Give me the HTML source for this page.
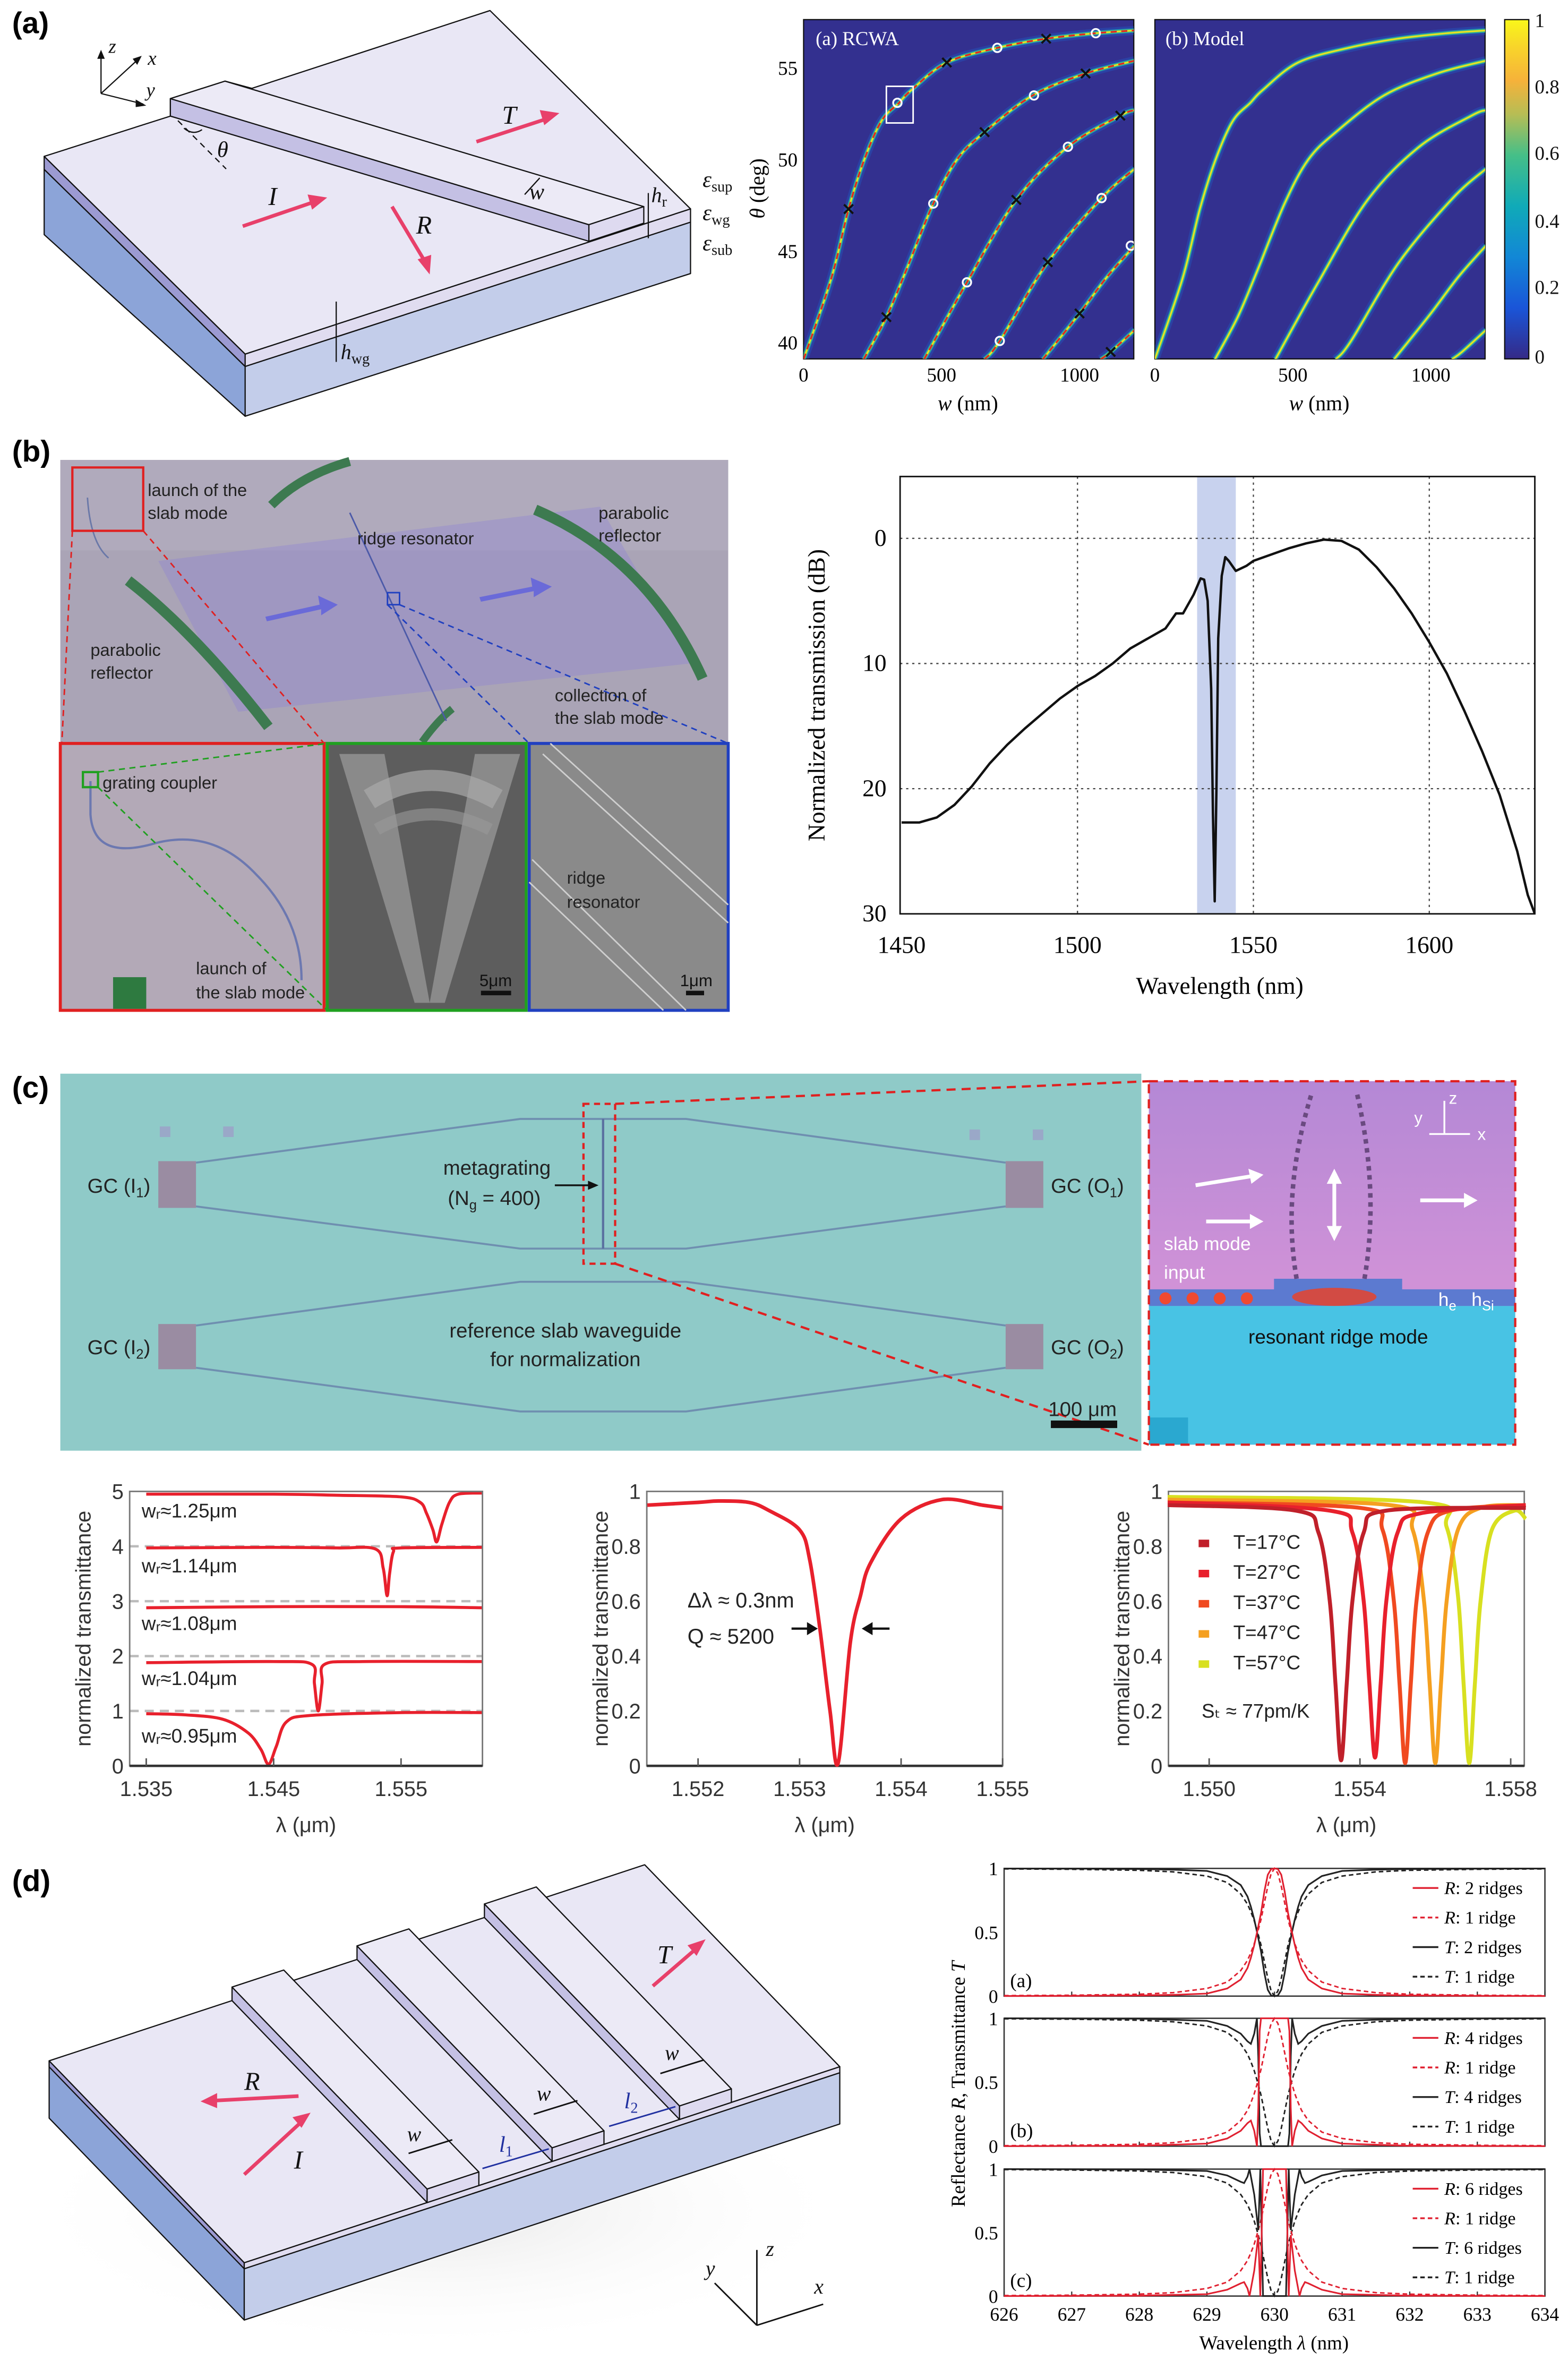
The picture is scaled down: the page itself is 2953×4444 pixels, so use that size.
<!DOCTYPE html>
<html><head><meta charset="utf-8"><title>Ridge resonator figure</title>
<style>
html,body{margin:0;padding:0;background:#fff;}
svg{display:block;}
.sf{font-family:"Liberation Serif",serif;}
.ss{font-family:"Liberation Sans",sans-serif;}
</style></head>
<body>
<svg id="fig" xmlns="http://www.w3.org/2000/svg" viewBox="0 0 1040 1565" width="2953" height="4444" preserveAspectRatio="none">
<defs>
 <linearGradient id="parula" x1="0" y1="1" x2="0" y2="0">
  <stop offset="0" stop-color="#352a87"/><stop offset="0.15" stop-color="#1a55d8"/><stop offset="0.3" stop-color="#1287d6"/>
  <stop offset="0.45" stop-color="#10aab8"/><stop offset="0.6" stop-color="#45bf88"/><stop offset="0.72" stop-color="#b6bd55"/>
  <stop offset="0.82" stop-color="#f6b23a"/><stop offset="0.92" stop-color="#f8d52a"/><stop offset="1" stop-color="#f9f71a"/>
 </linearGradient>
 <linearGradient id="insetg" x1="0" y1="0" x2="0" y2="1">
  <stop offset="0" stop-color="#b488d6"/><stop offset="1" stop-color="#e69ad8"/>
 </linearGradient>
 <radialGradient id="shadowg" cx="0.5" cy="0.5" r="0.5">
  <stop offset="0" stop-color="#ddd"/><stop offset="1" stop-color="#fff" stop-opacity="0"/>
 </radialGradient>
 <clipPath id="clipA"><rect x="533" y="13" width="219" height="225"/></clipPath>
 <clipPath id="clipB"><rect x="766" y="13" width="219" height="225"/></clipPath>
 <clipPath id="clipBC"><rect x="597" y="316" width="421" height="290"/></clipPath>
</defs>

<text class="ss" x="8" y="22" font-size="20" font-weight="bold">(a)</text>
<text class="ss" x="8" y="306" font-size="20" font-weight="bold">(b)</text>
<text class="ss" x="8" y="728" font-size="20" font-weight="bold">(c)</text>
<text class="ss" x="8" y="1254" font-size="20" font-weight="bold">(d)</text>

<g stroke="#111" stroke-width="0.8" stroke-linejoin="round">
 <polygon points="29.3,112.3 162.6,243 162.6,276 29.3,155.6" fill="#8ca4d8"/>
 <polygon points="29.3,103.7 162.6,234.8 162.6,243 29.3,112.3" fill="#9c9ad2"/>
 <polygon points="162.6,243 458,147.3 458,181.4 162.6,276" fill="#c3cdea"/>
 <polygon points="162.6,234.8 458,138.5 458,147.3 162.6,243" fill="#e0dcf0"/>
 <polygon points="29.3,103.7 113,77 113,65.4 149.2,53.8 167,58.6 325,7 458,138.5 162.6,234.8" fill="#e9e7f5"/>
 <polygon points="113,65.4 390.6,149 390.6,160 113,77" fill="#c4c0e4"/>
 <polygon points="113,65.4 149.2,53.8 427,137 390.6,149" fill="#eceaf6"/>
 <polygon points="390.6,149 427,137 427,148 390.6,160" fill="#dedaf0"/>
 <line x1="118" y1="80" x2="150" y2="112" stroke-dasharray="4 3"/>
 <path d="M122 85 Q128 90 134 86" fill="none"/>
 <line x1="67" y1="62" x2="67" y2="36"/>
 <line x1="67" y1="62" x2="92" y2="39"/>
 <line x1="67" y1="62" x2="95" y2="69"/>
 <line x1="358" y1="118" x2="348" y2="129"/>
 <line x1="430" y1="128" x2="430" y2="158"/>
 <line x1="223" y1="200" x2="223" y2="240"/>
</g>
<g fill="#111">
 <polygon points="67,33 64.5,39 69.5,39"/><polygon points="94,37 88,39 91,43"/><polygon points="97,70 90,66 90,71"/>
</g>
<g stroke="#e8406a" stroke-width="2.4" fill="#e8406a">
 <line x1="161" y1="150" x2="208" y2="134"/><polygon points="217,131 204,129 207,139" stroke="none"/>
 <line x1="260" y1="137" x2="281" y2="172"/><polygon points="285,182 277,172 286,169" stroke="none"/>
 <line x1="316" y1="94" x2="362" y2="79"/><polygon points="371,75 358,73 361,83" stroke="none"/>
</g>
<g class="sf" font-style="italic" font-size="17" fill="#111">
 <text x="178" y="136">I</text><text x="276" y="155">R</text><text x="333" y="82">T</text>
 <text x="351" y="132" font-size="15">w</text><text x="144" y="104" font-size="15">θ</text>
 <text x="72" y="35" font-size="13">z</text><text x="98" y="43" font-size="13">x</text><text x="97" y="64" font-size="13">y</text>
 <text x="432" y="134" font-size="14">h<tspan font-size="10" font-style="normal" dy="3">r</tspan></text>
 <text x="226" y="238" font-size="14">h<tspan font-size="10" font-style="normal" dy="3">wg</tspan></text>
 <text x="466" y="124" font-size="15">ε<tspan font-size="10" font-style="normal" dy="3">sup</tspan></text>
 <text x="466" y="146" font-size="15">ε<tspan font-size="10" font-style="normal" dy="3">wg</tspan></text>
 <text x="466" y="166" font-size="15">ε<tspan font-size="10" font-style="normal" dy="3">sub</tspan></text>
</g>

<rect x="533" y="13" width="219" height="225" fill="#33308f" stroke="#111" stroke-width="0.8"/>
<rect x="766" y="13" width="219" height="225" fill="#33308f" stroke="#111" stroke-width="0.8"/>
<g id="heatA" clip-path="url(#clipA)"></g>
<g id="heatB" clip-path="url(#clipB)"></g>
<rect x="998" y="13" width="16" height="225" fill="url(#parula)" stroke="#111" stroke-width="0.8"/>
<g class="sf" font-size="13" fill="#111">
 <text x="1018" y="18">1</text><text x="1018" y="62">0.8</text><text x="1018" y="106">0.6</text>
 <text x="1018" y="151">0.4</text><text x="1018" y="195">0.2</text><text x="1018" y="241">0</text>
</g>
<g class="sf" font-size="13" fill="#fff">
 <text x="541" y="30">(a) RCWA</text><text x="773" y="30">(b) Model</text>
</g>
<g id="axA" class="sf"></g>
<text class="sf" font-size="14" transform="translate(507,125) rotate(-90)" text-anchor="middle"><tspan font-style="italic">θ</tspan> (deg)</text>
<text class="sf" font-size="14" x="642" y="272" text-anchor="middle"><tspan font-style="italic">w</tspan> (nm)</text>
<text class="sf" font-size="14" x="875" y="272" text-anchor="middle"><tspan font-style="italic">w</tspan> (nm)</text>

<g>
 <rect x="40" y="305" width="443" height="188" fill="#aaa4b6"/>
 <rect x="40" y="305" width="443" height="60" fill="#b4afc0" opacity="0.6"/>
 <polygon points="105,372 398,336 458,440 158,472" fill="#8b80d8" opacity="0.35"/>
 <path d="M85 385 Q130 420 178 482" stroke="#3d7a50" stroke-width="7" fill="none"/>
 <path d="M355 338 Q430 370 466 450" stroke="#3d7a50" stroke-width="7" fill="none"/>
 <path d="M180 335 Q200 315 232 306" stroke="#3d7a50" stroke-width="6" fill="none"/>
 <path d="M280 492 Q290 478 300 470" stroke="#3d7a50" stroke-width="5" fill="none"/>
 <path d="M58 330 Q60 360 72 370" stroke="#6a78a8" stroke-width="1" fill="none"/>
 <line x1="232" y1="340" x2="296" y2="478" stroke="#4c5aa8" stroke-width="1"/>
 <rect x="257" y="393" width="8" height="8" fill="none" stroke="#2040c0" stroke-width="1"/>
 <polygon points="176,409 212,401 211,395 224,401 213,408 213,404 177,412" fill="#6a6ad8"/>
 <polygon points="318,396 353,389 352,383 366,389 354,396 354,392 319,399" fill="#6a6ad8"/>
 <rect x="48" y="310" width="47" height="42" fill="none" stroke="#e02020" stroke-width="1.5"/>
 <line x1="48" y1="352" x2="41" y2="493" stroke="#e02020" stroke-dasharray="4 3"/>
 <line x1="95" y1="352" x2="215" y2="493" stroke="#e02020" stroke-dasharray="4 3"/>
 <line x1="257" y1="401" x2="351" y2="493" stroke="#2040c0" stroke-dasharray="4 3"/>
 <line x1="265" y1="401" x2="483" y2="493" stroke="#2040c0" stroke-dasharray="4 3"/>
</g>
<g class="ss" font-size="11.5" fill="#222">
 <text x="98" y="329">launch of the</text><text x="98" y="344">slab mode</text>
 <text x="237" y="361">ridge resonator</text>
 <text x="397" y="344">parabolic</text><text x="397" y="359">reflector</text>
 <text x="60" y="435">parabolic</text><text x="60" y="450">reflector</text>
 <text x="368" y="465">collection of</text><text x="368" y="480">the slab mode</text>
</g>
<g>
 <rect x="40" y="493" width="175" height="177" fill="#b3a9b7" stroke="#e02020" stroke-width="2"/>
 <path d="M60 518 L60 540 Q62 570 100 560 Q140 548 170 580 Q200 610 200 650" fill="none" stroke="#6c78b0" stroke-width="1.5"/>
 <rect x="55" y="512" width="10" height="10" fill="none" stroke="#20a020" stroke-width="1.5"/>
 <rect x="75" y="648" width="22" height="21" fill="#2e7a40"/>
 <line x1="65" y1="512" x2="217" y2="493" stroke="#20a020" stroke-dasharray="4 3"/>
 <line x1="65" y1="522" x2="217" y2="670" stroke="#20a020" stroke-dasharray="4 3"/>
 <text class="ss" font-size="11.5" fill="#222" x="68" y="523">grating coupler</text>
 <text class="ss" font-size="11.5" fill="#222" x="130" y="646">launch of</text>
 <text class="ss" font-size="11.5" fill="#222" x="130" y="662">the slab mode</text>
</g>
<g>
 <rect x="217" y="493" width="132" height="177" fill="#5d5d5d" stroke="#20a020" stroke-width="2"/>
 <polygon points="225,500 255,500 285,665 275,665" fill="#8a8a8a"/>
 <polygon points="345,500 315,500 285,665 295,665" fill="#8a8a8a"/>
 <path d="M245 530 Q285 505 330 530" stroke="#aaa" stroke-width="14" fill="none" opacity="0.7"/>
 <path d="M250 550 Q285 530 325 550" stroke="#9a9a9a" stroke-width="8" fill="none" opacity="0.6"/>
 <rect x="319" y="657" width="20" height="3" fill="#111"/>
 <text class="ss" font-size="11" fill="#111" x="318" y="654">5μm</text>
</g>
<g>
 <rect x="351" y="493" width="132" height="177" fill="#8a8a8a" stroke="#2040c0" stroke-width="2"/>
 <line x1="365" y1="493" x2="483" y2="600" stroke="#cfcfcf" stroke-width="1"/>
 <line x1="360" y1="500" x2="483" y2="612" stroke="#cfcfcf" stroke-width="1"/>
 <line x1="353" y1="570" x2="455" y2="670" stroke="#cfcfcf" stroke-width="1"/>
 <line x1="351" y1="585" x2="440" y2="670" stroke="#cfcfcf" stroke-width="1"/>
 <text class="ss" font-size="11.5" fill="#222" x="376" y="586">ridge</text>
 <text class="ss" font-size="11.5" fill="#222" x="376" y="602">resonator</text>
 <rect x="455" y="657" width="12" height="3" fill="#111"/>
 <text class="ss" font-size="11" fill="#111" x="451" y="654">1μm</text>
</g>

<g id="chartB"></g>
<text class="sf" font-size="16" transform="translate(547,461) rotate(-90)" text-anchor="middle">Normalized transmission (dB)</text>
<text class="sf" font-size="16" x="809" y="659" text-anchor="middle">Wavelength (nm)</text>

<g>
 <rect x="40" y="712" width="717" height="250" fill="#8fcac8"/>
 <g fill="none" stroke="#6f8fb0" stroke-width="1.3">
  <polyline points="130,771 345,742 455,742 667,771"/><polyline points="130,800 345,828 455,828 667,800"/>
  <polyline points="130,879 345,850 455,850 667,879"/><polyline points="130,907 345,936 455,936 667,907"/>
 </g>
 <line x1="400" y1="742" x2="400" y2="828" stroke="#5a70a0" stroke-width="1.5"/>
 <rect x="105" y="770" width="25" height="31" fill="#9a8ca2"/><rect x="667" y="770" width="25" height="31" fill="#9a8ca2"/>
 <rect x="105" y="878" width="25" height="30" fill="#9a8ca2"/><rect x="667" y="878" width="25" height="30" fill="#9a8ca2"/>
 <rect x="106" y="747" width="7" height="7" fill="#9aa8c8"/><rect x="148" y="747" width="7" height="7" fill="#9aa8c8"/>
 <rect x="643" y="749" width="7" height="7" fill="#9aa8c8"/><rect x="685" y="749" width="7" height="7" fill="#9aa8c8"/>
 <rect x="387" y="732" width="21" height="106" fill="none" stroke="#e02020" stroke-width="1.5" stroke-dasharray="4 3"/>
 <line x1="408" y1="732" x2="762" y2="717" stroke="#e02020" stroke-width="1.5" stroke-dasharray="6 4"/>
 <line x1="408" y1="838" x2="762" y2="958" stroke="#e02020" stroke-width="1.5" stroke-dasharray="6 4"/>
 <line x1="368" y1="786" x2="392" y2="786" stroke="#111" stroke-width="1.2"/><polygon points="397,786 390,783 390,789" fill="#111"/>
 <rect x="697" y="942" width="44" height="5" fill="#111"/>
</g>
<g class="ss" font-size="13.5" fill="#222">
 <text x="58" y="791">GC (I<tspan font-size="9" dy="3">1</tspan><tspan dy="-3">)</tspan></text>
 <text x="697" y="791">GC (O<tspan font-size="9" dy="3">1</tspan><tspan dy="-3">)</tspan></text>
 <text x="58" y="898">GC (I<tspan font-size="9" dy="3">2</tspan><tspan dy="-3">)</tspan></text>
 <text x="697" y="898">GC (O<tspan font-size="9" dy="3">2</tspan><tspan dy="-3">)</tspan></text>
 <text x="294" y="779">metagrating</text>
 <text x="297" y="799">(N<tspan font-size="9" dy="3">g</tspan><tspan dy="-3"> = 400)</tspan></text>
 <text x="375" y="887" text-anchor="middle">reference slab waveguide</text>
 <text x="375" y="906" text-anchor="middle">for normalization</text>
 <text x="718" y="939" text-anchor="middle">100 μm</text>
</g>
<g>
 <rect x="762" y="717" width="243" height="241" fill="url(#insetg)"/>
 <rect x="762" y="866" width="243" height="92" fill="#48c3e4"/>
 <rect x="762" y="855" width="243" height="11" fill="#5c7ad0"/>
 <rect x="845" y="848" width="85" height="8" fill="#5c7ad0"/>
 <ellipse cx="885" cy="860" rx="28" ry="6" fill="#f04020" opacity="0.8"/>
 <g fill="#f04a30"><circle cx="773" cy="861" r="4"/><circle cx="791" cy="861" r="4"/><circle cx="809" cy="861" r="4"/><circle cx="827" cy="861" r="4"/></g>
 <path d="M860 848 Q850 790 870 725" stroke="#6a4a80" stroke-width="3" fill="none" stroke-dasharray="3 3"/>
 <path d="M905 848 Q915 790 900 725" stroke="#6a4a80" stroke-width="3" fill="none" stroke-dasharray="3 3"/>
 <g stroke="#fff" stroke-width="2.5" fill="#fff">
  <line x1="793" y1="786" x2="830" y2="780"/><polygon points="838,779 828,775 830,785" stroke="none"/>
  <line x1="800" y1="810" x2="830" y2="810"/><polygon points="838,810 829,805 829,815" stroke="none"/>
  <line x1="885" y1="783" x2="885" y2="815"/><polygon points="885,775 880,785 890,785" stroke="none"/><polygon points="885,823 880,813 890,813" stroke="none"/>
  <line x1="942" y1="796" x2="972" y2="796"/><polygon points="980,796 971,791 971,801" stroke="none"/>
  <line x1="948" y1="752" x2="975" y2="752" stroke-width="1.2"/><line x1="958" y1="752" x2="958" y2="730" stroke-width="1.2"/>
 </g>
 <rect x="762" y="940" width="26" height="18" fill="#2aa8d0"/>
 <rect x="762" y="717" width="243" height="241" fill="none" stroke="#e02020" stroke-width="1.5" stroke-dasharray="6 4"/>
 <g class="ss" fill="#fff" font-size="12.5">
  <text x="772" y="829">slab mode</text><text x="772" y="848">input</text>
  <text x="954" y="866">h<tspan font-size="9" dy="3">e</tspan></text><text x="976" y="866">h<tspan font-size="9" dy="3">Si</tspan></text>
  <text x="938" y="745" font-size="11">y</text><text x="961" y="732" font-size="11">z</text><text x="980" y="756" font-size="11">x</text>
 </g>
 <text class="ss" fill="#111" font-size="13" x="828" y="891">resonant ridge mode</text>
</g>

<g id="chartC1"></g>
<g id="chartC2"></g>
<g id="chartC3"></g>

<g id="diagD"></g>
<g id="chartD"></g>
<text class="sf" font-size="13" transform="translate(640,1382) rotate(-90)" text-anchor="middle">Reflectance <tspan font-style="italic">R</tspan>, Transmittance <tspan font-style="italic">T</tspan></text>
<text class="sf" font-size="13" x="845" y="1558" text-anchor="middle">Wavelength <tspan font-style="italic">λ</tspan> (nm)</text>

<script>
const curveW1 = [0, 100, 163, 220, 282, 346, 391, 519, 702, 879, 1059, 1200];
const curveT1 = [39.1, 43.5, 47.3, 50.0, 52.1, 53.1, 53.8, 55.3, 56.1, 56.6, 56.9, 57.05];
const curveW2 = [218, 300, 373, 470, 556, 656, 830, 1022, 1200];
const curveT2 = [39.1, 41.4, 44.0, 47.6, 50.0, 51.5, 53.5, 54.7, 55.4];
const curveW3 = [437, 592, 771, 958, 1148, 1200];
const curveT3 = [39.1, 43.3, 47.8, 50.7, 52.4, 52.7];
const curveW4 = [656, 711, 885, 1080, 1200];
const curveT4 = [39.1, 40.1, 44.4, 47.9, 49.5];
const curveW5 = [867, 1000, 1100, 1200];
const curveT5 = [39.1, 41.6, 43.6, 45.3];
const curveW6 = [1077, 1113, 1200];
const curveT6 = [39.1, 39.5, 40.7];
const crossW = [163, 300, 519, 656, 771, 879, 885, 1000, 1022, 1148, 1113];
const crossT = [47.3, 41.4, 55.3, 51.5, 47.8, 56.6, 44.4, 41.6, 54.7, 52.4, 39.5];
const circW = [340, 470, 592, 702, 711, 835, 958, 1059, 1080, 1186];
const circT = [53.1, 47.6, 43.3, 56.1, 40.1, 53.5, 50.7, 56.9, 47.9, 45.3];
const heatXTicks = [0, 500, 1000];
const heatYTicks = [40, 45, 50, 55];

const specLam = [1450,1455,1460,1465,1470,1475,1480,1485,1490,1495,1500,1505,1510,1515,1520,1525,1528,1530,1533,1535,1536,1537,1538,1538.5,1539,1539.5,1540,1541,1542,1543,1545,1548,1550,1555,1560,1565,1570,1575,1580,1585,1590,1595,1600,1605,1610,1615,1620,1625,1628,1630];
const specDb = [22.7,22.7,22.3,21.3,19.8,18.0,16.5,15.2,14.0,12.8,11.8,11.0,10.0,8.8,8.0,7.2,6.0,6.0,4.5,3.2,3.3,5,12,22,29,20,8,3,1.5,1.8,2.6,2.2,1.8,1.3,0.8,0.4,0.1,0.2,0.9,2.3,4.0,6.0,8.3,10.8,13.8,17.0,20.5,25.0,28.5,30];
const specXTicks = [1450, 1500, 1550, 1600];
const specYTicks = [0, 10, 20, 30];
const bandRange = [1534, 1545];

const c1Lam1 = [1.535,1.545,1.55,1.555,1.5565,1.557,1.5575,1.5578,1.5582,1.5588,1.5595,1.5614];
const c1Val1 = [4.95,4.95,4.93,4.9,4.8,4.6,4.3,4.08,4.4,4.8,4.95,4.97];
const c1Lam2 = [1.535,1.545,1.55,1.553,1.5536,1.5539,1.5541,1.5544,1.555,1.5614];
const c1Val2 = [3.97,3.98,3.97,3.95,3.6,3.1,3.5,3.9,3.97,3.98];
const c1Lam3 = [1.535,1.545,1.555,1.5614];
const c1Val3 = [2.88,2.9,2.9,2.88];
const c1Lam4 = [1.535,1.545,1.548,1.5482,1.5485,1.5488,1.549,1.552,1.5614];
const c1Val4 = [1.88,1.9,1.85,1.5,1.0,1.5,1.85,1.9,1.9];
const c1Lam5 = [1.535,1.538,1.541,1.543,1.544,1.5446,1.5452,1.546,1.548,1.555,1.5614];
const c1Val5 = [0.95,0.93,0.85,0.6,0.3,0.03,0.35,0.8,0.92,0.97,0.97];
const c1Labels = ['w\u1D63\u22481.25\u03BCm','w\u1D63\u22481.14\u03BCm','w\u1D63\u22481.08\u03BCm','w\u1D63\u22481.04\u03BCm','w\u1D63\u22480.95\u03BCm'];
const c1LabelVals = [4.55, 3.55, 2.5, 1.5, 0.45];
const c1Guides = [4, 3, 2, 1];
const c1XTicks = [1.535, 1.545, 1.555];
const c1YTicks = [0, 1, 2, 3, 4, 5];

const c2Lam = [1.5515,1.552,1.5522,1.5525,1.5527,1.553,1.5531,1.5532,1.5533,1.55338,1.5535,1.5536,1.5537,1.554,1.5544,1.5548,1.555];
const c2Val = [0.95,0.96,0.965,0.96,0.93,0.86,0.75,0.5,0.2,0.01,0.45,0.62,0.74,0.9,0.97,0.95,0.94];
const c2XTicks = [1.552, 1.553, 1.554, 1.555];
const c2YTicks = [0, 0.2, 0.4, 0.6, 0.8, 1];

const c3Lam17 = [1.5489,1.5523,1.5529,1.5532,1.55335,1.5535,1.55365,1.5538,1.5541,1.5547,1.5584];
const c3Lam27 = [1.5489,1.5532,1.5538,1.5541,1.55425,1.5544,1.55455,1.5547,1.555,1.5556,1.5584];
const c3Lam37 = [1.5489,1.554,1.5546,1.5549,1.55505,1.5552,1.55535,1.5555,1.5558,1.5564,1.5584];
const c3Lam47 = [1.5489,1.5548,1.5554,1.5557,1.55585,1.556,1.55615,1.5563,1.5566,1.5572,1.5584];
const c3Lam57 = [1.5489,1.5557,1.5563,1.5566,1.55675,1.5569,1.55705,1.5572,1.5575,1.5581,1.5584];
const c3Val17 = [0.95,0.93,0.85,0.6,0.3,0.02,0.3,0.6,0.85,0.93,0.94];
const c3Val27 = [0.96,0.93,0.85,0.6,0.3,0.03,0.3,0.6,0.85,0.92,0.95];
const c3Val37 = [0.96,0.94,0.86,0.6,0.3,0.01,0.3,0.6,0.85,0.93,0.95];
const c3Val47 = [0.97,0.95,0.86,0.6,0.3,0.01,0.3,0.6,0.86,0.94,0.95];
const c3Val57 = [0.98,0.96,0.87,0.62,0.3,0.01,0.3,0.6,0.86,0.93,0.9];
const c3Names = ['T=17\u00B0C','T=27\u00B0C','T=37\u00B0C','T=47\u00B0C','T=57\u00B0C'];
const c3XTicks = [1.550, 1.554, 1.558];
const c3YTicks = [0, 0.2, 0.4, 0.6, 0.8, 1];

const dLam = [626,627,628,628.5,629,629.3,629.5,629.6,629.65,629.7,629.75,629.8,629.85,629.9,629.95,630,630.05,630.1,630.15,630.2,630.25,630.3,630.35,630.4,630.5,630.7,631,631.5,632,633,634];
const dR1 = [.004,.007,.015,.027,.06,.11,.2,.28,.34,.41,.5,.6,.73,.86,.96,1,.96,.86,.73,.6,.5,.41,.34,.28,.2,.11,.06,.027,.015,.007,.004];
const dT1 = [.996,.993,.985,.973,.94,.89,.8,.72,.66,.59,.5,.4,.27,.14,.04,0,.04,.14,.27,.4,.5,.59,.66,.72,.8,.89,.94,.973,.985,.993,.996];
const dR2 = [.001,.002,.005,.01,.02,.06,.13,.22,.3,.4,.52,.65,.82,.95,.995,1,.995,.95,.82,.65,.52,.4,.3,.22,.13,.06,.02,.01,.005,.002,.001];
const dT2 = [.999,.998,.995,.99,.98,.94,.87,.78,.7,.6,.48,.35,.18,.05,.005,0,.005,.05,.18,.35,.48,.6,.7,.78,.87,.94,.98,.99,.995,.998,.999];
const dLam4 = [626,628,629,629.3,629.5,629.6,629.65,629.7,629.74,629.76,629.78,629.8,630.2,630.22,630.24,630.26,630.3,630.35,630.4,630.5,630.7,631,632,634];
const dR4 = [0,.003,.02,.06,.12,.18,.2,.12,0,.3,.9,1,1,.9,.3,0,.12,.2,.18,.12,.06,.02,.003,0];
const dT4 = [1,.997,.98,.94,.88,.82,.8,.88,1,.7,.1,0,0,.1,.7,1,.88,.8,.82,.88,.94,.98,.997,1];
const dLam6 = [626,628,629,629.3,629.5,629.55,629.6,629.63,629.7,629.76,629.79,629.81,629.83,630.17,630.19,630.21,630.24,630.3,630.37,630.4,630.45,630.5,630.7,631,632,634];
const dR6 = [0,.003,.015,.05,.1,.11,.06,0,.2,.48,0,.5,1,1,.5,0,.48,.2,0,.06,.11,.1,.05,.015,.003,0];
const dT6 = [1,.997,.985,.95,.9,.89,.94,1,.8,.52,1,.5,0,0,.5,1,.52,.8,1,.94,.89,.9,.95,.985,.997,1];
const dXTicks = [626,627,628,629,630,631,632,633,634];
const dYTicks = [0, 0.5, 1];

const NS = 'http://www.w3.org/2000/svg';
function mk(tag, a, p) { const e = document.createElementNS(NS, tag); for (const k in a) e.setAttribute(k, a[k]); p.appendChild(e); return e; }
function lin(d0, d1, r0, r1) { return v => r0 + (v - d0) * (r1 - r0) / (d1 - d0); }
function lineD(xs, ys, sx, sy) { return xs.map((x, i) => (i ? 'L' : 'M') + sx(x).toFixed(2) + ' ' + sy(ys[i]).toFixed(2)).join(' '); }
function smoothD(xs, ys, sx, sy) {
  const P = xs.map((x, i) => [sx(x), sy(ys[i])]);
  let d = 'M' + P[0][0].toFixed(2) + ' ' + P[0][1].toFixed(2);
  for (let i = 0; i < P.length - 1; i++) {
    const p0 = P[i - 1] || P[i], p1 = P[i], p2 = P[i + 1], p3 = P[i + 2] || P[i + 1];
    const c1 = [p1[0] + (p2[0] - p0[0]) / 6, p1[1] + (p2[1] - p0[1]) / 6];
    const c2 = [p2[0] - (p3[0] - p1[0]) / 6, p2[1] - (p3[1] - p1[1]) / 6];
    d += ' C' + c1[0].toFixed(2) + ' ' + c1[1].toFixed(2) + ' ' + c2[0].toFixed(2) + ' ' + c2[1].toFixed(2) + ' ' + p2[0].toFixed(2) + ' ' + p2[1].toFixed(2);
  }
  return d;
}
function addT(parent, str, attrs) { const t = mk('text', attrs, parent); t.textContent = str; return t; }
function addSpan(parent, str, attrs) { const t = mk('tspan', attrs, parent); t.textContent = str; return t; }
const svg = document.getElementById('fig');

// Panel (a) heatmaps
const syA = lin(40, 55, 227.3, 45.1);
const sxA = lin(0, 1000, 533, 716);
const sxB = lin(0, 1000, 766, 949);
const curvesW = [curveW1, curveW2, curveW3, curveW4, curveW5, curveW6];
const curvesT = [curveT1, curveT2, curveT3, curveT4, curveT5, curveT6];
[['heatA', sxA, true], ['heatB', sxB, false]].forEach(([id, sx, rcwa]) => {
  const g = document.getElementById(id);
  curvesW.forEach((cw, ci) => {
    const d = smoothD(cw, curvesT[ci], sx, syA);
    const glow = mk('path', { d: d, fill: 'none', stroke: '#1c6ad8', 'stroke-width': 6, opacity: 0.3 }, g);
    
    
    const mid = mk('path', { d: d, fill: 'none', stroke: '#20b0b0', 'stroke-width': 3, opacity: 0.7 }, g);
    
    
    const inner = mk('path', { d: d, fill: 'none', stroke: '#60cf68', 'stroke-width': 1.8 }, g);
    
    
    const core = mk('path', { d: d, fill: 'none', stroke: '#f5e020', 'stroke-width': 0.9 }, g);
    
    
    if (rcwa) {
      const dash = mk('path', { d: d, fill: 'none', stroke: '#e82020', 'stroke-width': 1.1, 'stroke-dasharray': '4 3' }, g);
      
      
    }
  });
  if (rcwa) {
    crossW.forEach((w, i) => {
      const x = sx(w), y = syA(crossT[i]);
      const c = mk('path', { d: `M${x-3} ${y-3} L${x+3} ${y+3} M${x-3} ${y+3} L${x+3} ${y-3}`, stroke: '#111', 'stroke-width': 1.4, fill: 'none' }, g);
      
      
    });
    circW.forEach((w, i) => {
      const c = mk('circle', { cx: sx(w), cy: syA(circT[i]), r: 2.8, fill: 'none', stroke: '#fff', 'stroke-width': 1.2 }, g);
      
      
    });
    const box = mk('rect', { x: sx(300), y: syA(54), width: sx(397) - sx(300), height: syA(52) - syA(54), fill: 'none', stroke: '#fff', 'stroke-width': 1 }, g);
    
    
  }
});
const axA = document.getElementById('axA');
heatXTicks.forEach(v => {
  [sxA, sxB].forEach(sx => {
    const t = addT(axA, String(v), { x: sx(v), y: 253, 'font-size': 13, 'text-anchor': 'middle' });
    
    
  });
});
heatYTicks.forEach(v => {
  const t = addT(axA, String(v), { x: 529, y: syA(v) + 4.5, 'font-size': 13, 'text-anchor': 'end' });
  
  
});

// Panel (b) chart
(function () {
  const g = document.getElementById('chartB');
  const sx = lin(1450, 1600, 598, 948), sy = lin(0, 30, 357, 606);
  const band = mk('rect', { x: sx(bandRange[0]), y: 316, width: sx(bandRange[1]) - sx(bandRange[0]), height: 290, fill: '#c8d2ee' }, g);
  
  
  specXTicks.forEach(v => {
    if (v > 1450) {
      const gl = mk('line', { x1: sx(v), x2: sx(v), y1: 316, y2: 606, stroke: '#444', 'stroke-width': 0.8, 'stroke-dasharray': '1.5 2.5' }, g);
      
      
    }
    const t = addT(g, String(v), { x: sx(v), y: 632, 'font-size': 16, 'text-anchor': 'middle', class: 'sf' });
    
    
  });
  specYTicks.forEach(v => {
    if (v < 30) {
      const gl = mk('line', { x1: 597, x2: 1018, y1: sy(v), y2: sy(v), stroke: '#444', 'stroke-width': 0.8, 'stroke-dasharray': '1.5 2.5' }, g);
      
      
    }
    const t = addT(g, String(v), { x: 588, y: sy(v) + 5, 'font-size': 16, 'text-anchor': 'end', class: 'sf' });
    
    
  });
  const cg = mk('g', { 'clip-path': 'url(#clipBC)' }, g);
  const p = mk('path', { d: lineD(specLam, specDb, sx, sy), fill: 'none', stroke: '#111', 'stroke-width': 1.6, 'stroke-linejoin': 'round' }, cg);
  
  
  const fr = mk('rect', { x: 597, y: 316, width: 421, height: 290, fill: 'none', stroke: '#111', 'stroke-width': 1 }, g);
  
  
})();

function cAxes(g, x0, x1, y0, y1, sx, sy, xt, yt, fmtX, fmtY) {
  const fr = mk('rect', { x: x0, y: y1, width: x1 - x0, height: y0 - y1, fill: 'none', stroke: '#777', 'stroke-width': 1 }, g);
  
  
  const ax = mk('line', { x1: x0, x2: x1, y1: y0, y2: y0, stroke: '#333', 'stroke-width': 1.6 }, g);
  
  
  xt.forEach(v => {
    const t = addT(g, fmtX(v), { x: sx(v), y: y0 + 20, 'font-size': 14, 'text-anchor': 'middle', class: 'ss', fill: '#333' });
    
    
    const tk = mk('line', { x1: sx(v), x2: sx(v), y1: y0, y2: y0 - 5, stroke: '#555' }, g);
    
    
  });
  yt.forEach(v => {
    const t = addT(g, fmtY(v), { x: x0 - 4, y: sy(v) + 5, 'font-size': 14, 'text-anchor': 'end', class: 'ss', fill: '#333' });
    
    
  });
  const yl = addT(g, 'normalized transmittance', { 'font-size': 14, 'text-anchor': 'middle', class: 'ss', fill: '#333', transform: `translate(${x0 - 26},${(y0 + y1) / 2}) rotate(-90)` });
  
  
  const xl = addT(g, 'λ (μm)', { x: (x0 + x1) / 2, y: y0 + 44, 'font-size': 14, 'text-anchor': 'middle', class: 'ss', fill: '#333' });
  
  
}

(function () {
  const g = document.getElementById('chartC1');
  const sx = lin(1.535, 1.545, 97, 181.5), sy = lin(0, 5, 1171, 989);
  c1Guides.forEach(v => {
    const l = mk('line', { x1: 86, x2: 320, y1: sy(v), y2: sy(v), stroke: '#bbb', 'stroke-width': 1.6, 'stroke-dasharray': '6 4' }, g);
    
    
  });
  c1Labels.forEach((s, i) => {
    const bg = mk('rect', { x: 88, y: sy(c1LabelVals[i]) - 12, width: 112, height: 16, fill: '#fff' }, g);
    
    
  });
  const L = [c1Lam1, c1Lam2, c1Lam3, c1Lam4, c1Lam5], V = [c1Val1, c1Val2, c1Val3, c1Val4, c1Val5];
  L.forEach((l, i) => {
    const p = mk('path', { d: smoothD(l, V[i], sx, sy), fill: 'none', stroke: '#e8202c', 'stroke-width': 2 }, g);
    
    
  });
  c1Labels.forEach((s, i) => {
    const t = addT(g, s, { x: 94, y: sy(c1LabelVals[i]) + 1, 'font-size': 13, class: 'ss', fill: '#222' });
    
    
  });
  cAxes(g, 86, 320, 1171, 989, sx, sy, c1XTicks, c1YTicks, v => v.toFixed(3), v => String(v));
})();

(function () {
  const g = document.getElementById('chartC2');
  const sx = lin(1.552, 1.555, 463, 665), sy = lin(0, 1, 1171, 989);
  cAxes(g, 429, 665, 1171, 989, sx, sy, c2XTicks, c2YTicks, v => v.toFixed(3), v => (v === 0 || v === 1) ? String(v) : v.toFixed(1));
  const p = mk('path', { d: smoothD(c2Lam, c2Val, sx, sy), fill: 'none', stroke: '#e8202c', 'stroke-width': 2.4 }, g);
  
  
  const t1 = addT(g, 'Δλ ≈ 0.3nm', { x: 456, y: 1066, 'font-size': 14, class: 'ss', fill: '#222' });
  
  
  const t2 = addT(g, 'Q ≈ 5200', { x: 456, y: 1090, 'font-size': 14, class: 'ss', fill: '#222' });
  
  
  const a = mk('path', { d: 'M525 1080 L541 1080 M541 1080 L536 1077 L536 1083 Z M590 1080 L573 1080 M573 1080 L578 1077 L578 1083 Z', stroke: '#111', fill: '#111', 'stroke-width': 1.5 }, g);
  
  
})();

(function () {
  const g = document.getElementById('chartC3');
  const sx = lin(1.550, 1.558, 802, 1002), sy = lin(0, 1, 1171, 989);
  cAxes(g, 775, 1011, 1171, 989, sx, sy, c3XTicks, c3YTicks, v => v.toFixed(3), v => (v === 0 || v === 1) ? String(v) : v.toFixed(1));
  const cols = ['#c0202a', '#e8202c', '#f04a20', '#f5a020', '#d8e020'];
  const L = [c3Lam17, c3Lam27, c3Lam37, c3Lam47, c3Lam57], V = [c3Val17, c3Val27, c3Val37, c3Val47, c3Val57];
  for (let i = L.length - 1; i >= 0; i--) {
    const p = mk('path', { d: smoothD(L[i], V[i], sx, sy), fill: 'none', stroke: cols[i], 'stroke-width': 2.6 }, g);
    
    
  }
  const rows = [1027, 1047, 1067, 1087, 1107];
  c3Names.forEach((s, i) => {
    const sq = mk('rect', { x: 795, y: rows[i] - 6, width: 7, height: 5, fill: cols[i] }, g);
    
    
    const t = addT(g, s, { x: 818, y: rows[i], 'font-size': 13, class: 'ss', fill: '#222' });
    
    
  });
  const st = addT(g, 'S\u209C ≈ 77pm/K', { x: 797, y: 1139, 'font-size': 13, class: 'ss', fill: '#222' });
  
  
})();

// Panel (d) diagram
(function () {
  const g = document.getElementById('diagD');
  const L = [32.6, 1366.6], A = [395, -130], D = [129.4, 133.9], H = 9, TH = 4, SUB = 34;
  const P = (s, t, z) => [L[0] + s * A[0] + t * D[0], L[1] + s * A[1] + t * D[1] - (z || 0)];
  const pts = arr => arr.map(p => p[0].toFixed(1) + ',' + p[1].toFixed(1)).join(' ');
  function poly(arr, fill, name) {
    const e = mk('polygon', { points: pts(arr), fill: fill, stroke: '#111', 'stroke-width': 0.8, 'stroke-linejoin': 'round' }, g);
    
    
  }
  const sh = mk('ellipse', { cx: 290, cy: 1465, rx: 280, ry: 95, fill: 'url(#shadowg)', opacity: 0.7 }, g);
  
  
  poly([P(0, 0, 0), P(0, 1, 0), P(0, 1, -TH - SUB), P(0, 0, -TH - SUB)], '#8ca4d8', 'left-substrate-face');
  poly([P(0, 0, 0), P(0, 1, 0), P(0, 1, -TH), P(0, 0, -TH)], '#9c9ad2', 'left-wg-face');
  poly([P(0, 1, -TH), P(1, 1, -TH), P(1, 1, -TH - SUB), P(0, 1, -TH - SUB)], '#c3cdea', 'front-substrate-face');
  poly([P(0, 1, 0), P(1, 1, 0), P(1, 1, -TH), P(0, 1, -TH)], '#e0dcf0', 'front-wg-face');
  poly([P(0, 0, 0), P(1, 0, 0), P(1, 1, 0), P(0, 1, 0)], '#e9e7f5', 'top-surface');
  const ridges = [[0.731, 0.818], [0.517, 0.604], [0.307, 0.394]];
  ridges.forEach(r => {
    poly([P(r[0], 0, H), P(r[0], 1, H), P(r[0], 1, 0), P(r[0], 0, 0)], '#c4c0e4', 'ridge-side');
    poly([P(r[0], 1, H), P(r[1], 1, H), P(r[1], 1, 0), P(r[0], 1, 0)], '#dedaf0', 'ridge-end');
    poly([P(r[0], 0, H), P(r[1], 0, H), P(r[1], 1, H), P(r[0], 1, H)], '#eceaf6', 'ridge-top');
  });
  // pink arrows
  const arrowLines = [[198,1390,142,1393],[162,1442,200,1407],[433,1317,462,1292]];
  const arrowHeads = ['133,1393.5 144,1388 144,1398', '206,1401 194,1404 200,1411', '468,1286 456,1290 462,1297'];
  arrowLines.forEach((a, i) => {
    const l = mk('line', { x1: a[0], y1: a[1], x2: a[2], y2: a[3], stroke: '#e8406a', 'stroke-width': 2.4 }, g);
    
    
    const h = mk('polygon', { points: arrowHeads[i], fill: '#e8406a' }, g);
    
    
  });
  const dims = [[271,1428,300,1419,'#111'],[354,1402,383,1393,'#111'],[438,1375,467,1366,'#111'],[320,1438,364,1425,'#2030a0'],[404,1410,448,1397,'#2030a0'],
    [502,1542,502,1492,'#111'],[502,1542,546,1528,'#111'],[502,1542,474,1514,'#111']];
  dims.forEach(a => {
    const l = mk('line', { x1: a[0], y1: a[1], x2: a[2], y2: a[3], stroke: a[4], 'stroke-width': 1 }, g);
    
    
  });
  const labs = [['R',162,1386,17],['I',195,1438,17],['T',436,1302,17],['w',270,1420,14],['w',356,1393,14],['w',441,1366,14],['z',508,1496,14],['x',540,1521,14],['y',468,1509,14]];
  labs.forEach(a => {
    const t = addT(g, a[0], { x: a[1], y: a[2], 'font-size': a[3], class: 'sf', 'font-style': 'italic', fill: '#111' });
    
    
  });
  [['1',331,1427],['2',414,1398]].forEach(a => {
    const t = addT(g, 'l', { x: a[1], y: a[2], 'font-size': 15, class: 'sf', 'font-style': 'italic', fill: '#2030a0' });
    addSpan(t, a[0], { 'font-size': 10, 'font-style': 'normal', dy: 3 });
    
    
  });
})();

// Panel (d) charts
(function () {
  const g = document.getElementById('chartD');
  const sx = lin(626, 634, 666, 1024.7);
  const panels = [
    { y1: 1239, y0: 1323.7, tag: '(a)', n: '2 ridges', lam: dLam, R: dR2, T: dT2 },
    { y1: 1338.4, y0: 1423.2, tag: '(b)', n: '4 ridges', lam: dLam4, R: dR4, T: dT4 },
    { y1: 1438.4, y0: 1522.6, tag: '(c)', n: '6 ridges', lam: dLam6, R: dR6, T: dT6 }
  ];
  panels.forEach(pn => {
    const sy = lin(0, 1, pn.y0, pn.y1);
    const fr = mk('rect', { x: 666, y: pn.y1, width: 358.7, height: pn.y0 - pn.y1, fill: '#fff', stroke: '#333', 'stroke-width': 0.9 }, g);
    
    
    dXTicks.forEach(v => {
      const tk = mk('line', { x1: sx(v), x2: sx(v), y1: pn.y0, y2: pn.y0 - 3, stroke: '#333', 'stroke-width': 0.8 }, g);
      
      
    });
    dYTicks.forEach(v => {
      const t = addT(g, String(v), { x: 662, y: sy(v) + 4.5, 'font-size': 12.5, 'text-anchor': 'end', class: 'sf' });
      
      
    });
    const s1 = mk('path', { d: lineD(dLam, dT1, sx, sy), fill: 'none', stroke: '#222', 'stroke-width': 1, 'stroke-dasharray': '3 2' }, g);
    
    
    const s2 = mk('path', { d: lineD(dLam, dR1, sx, sy), fill: 'none', stroke: '#e02030', 'stroke-width': 1, 'stroke-dasharray': '3 2' }, g);
    
    
    const s3 = mk('path', { d: lineD(pn.lam, pn.T, sx, sy), fill: 'none', stroke: '#222', 'stroke-width': 1.1 }, g);
    
    
    const s4 = mk('path', { d: lineD(pn.lam, pn.R, sx, sy), fill: 'none', stroke: '#e02030', 'stroke-width': 1.1 }, g);
    
    
    const tg = addT(g, pn.tag, { x: 670, y: pn.y0 - 6, 'font-size': 13, class: 'sf' });
    
    
    const sym = ['R', 'R', 'T', 'T'];
    const rest = [': ' + pn.n, ': 1 ridge', ': ' + pn.n, ': 1 ridge'];
    const cols = ['#e02030', '#e02030', '#222', '#222'];
    const dash = ['', '3 2', '', '3 2'];
    sym.forEach((s, i) => {
      const yy = pn.y1 + 13 + i * 19.6;
      const ln = mk('line', { x1: 937, x2: 954, y1: yy, y2: yy, stroke: cols[i], 'stroke-width': 1.2, 'stroke-dasharray': dash[i] }, g);
      
      
      const t = mk('text', { x: 958, y: yy + 4, 'font-size': 12, class: 'sf' }, g);
      addSpan(t, s, { 'font-style': 'italic' });
      addSpan(t, rest[i], {});
      
      
    });
  });
  dXTicks.forEach(v => {
    const t = addT(g, String(v), { x: sx(v), y: 1539, 'font-size': 12.5, 'text-anchor': 'middle', class: 'sf' });
    
    
  });
})();
</script>
</body></html>
